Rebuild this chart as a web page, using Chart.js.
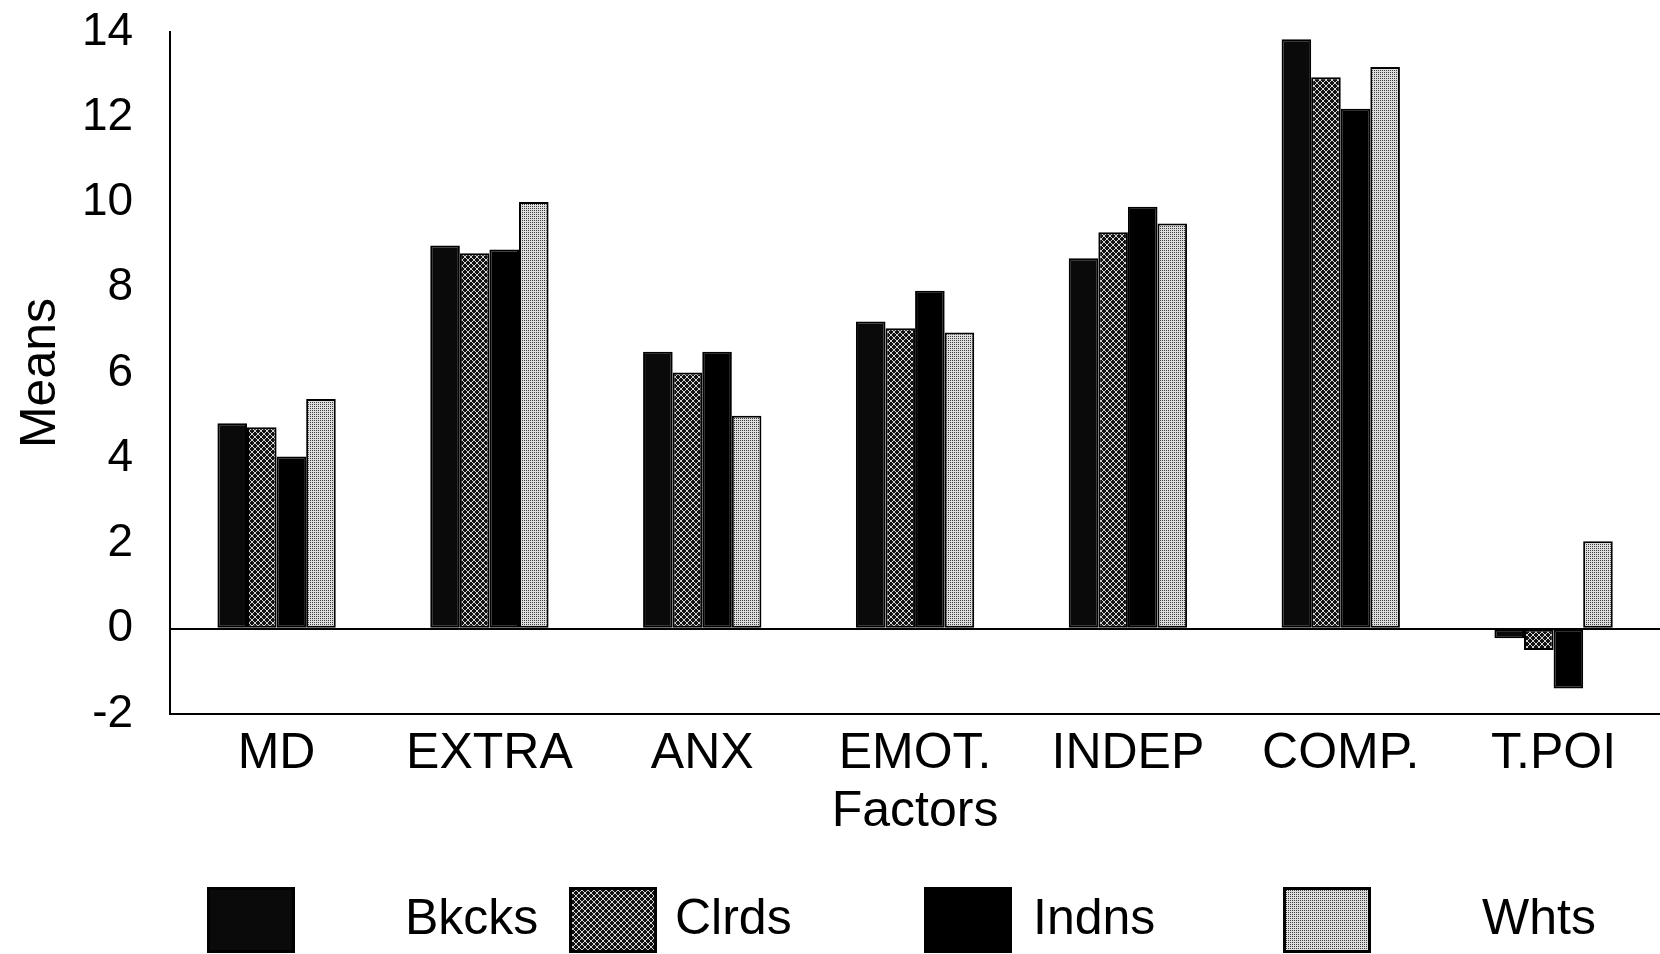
<!DOCTYPE html>
<html>
<head>
<meta charset="utf-8">
<script src="https://cdn.jsdelivr.net/npm/chart.js@4.4.1/dist/chart.umd.min.js"></script>
<style>
  html, body { margin: 0; padding: 0; background: #fff; }
  #wrap { width: 1660px; height: 954px; position: relative; }
</style>
</head>
<body>
<div id="wrap"><canvas id="c"></canvas></div>
<script>
// Factor means per group
const factors = ['MD', 'EXTRA', 'ANX', 'EMOT.', 'INDEP', 'COMP.', 'T.POI'];
const groupNames = ['Bkcks', 'Clrds', 'Indns', 'Whts'];
const bkcks = [4.82, 8.99, 6.50, 7.21, 8.69, 13.83, -0.22];
const clrds = [4.73, 8.81, 6.01, 7.05, 9.30, 12.94, -0.50];
const indns = [4.04, 8.90, 6.50, 7.93, 9.90, 12.20, -1.40];
const whts  = [5.39, 10.01, 5.00, 6.95, 9.51, 13.18, 2.05];
const yMin = -2, yMax = 14, yStep = 2;

const FONT = "'Liberation Sans', Arial, sans-serif";

// Small repeating tiles that give the halftone fills
function tilePattern(size, base, spot, isSpot) {
  const cv = document.createElement('canvas');
  cv.width = size; cv.height = size;
  const g = cv.getContext('2d');
  g.fillStyle = base;
  g.fillRect(0, 0, size, size);
  g.fillStyle = spot;
  for (let y = 0; y < size; y++) {
    for (let x = 0; x < size; x++) {
      if (isSpot(x, y)) g.fillRect(x, y, 1, 1);
    }
  }
  return g.createPattern(cv, 'repeat');
}
const ctx = document.getElementById('c').getContext('2d');
const fillBk = '#0a0a0a';
// dark crosshatch: black ground with light diagonal lattice
const fillCl = tilePattern(6, '#121212', '#d4d4d4', (x, y) => (x + y) % 6 === 1 || ((x - y) % 6 + 6) % 6 === 4);
const fillIn = '#000000';
// light stipple: pale ground with fine dark dots
const fillWh = tilePattern(2, '#dedede', '#3c3c3c', (x, y) => x === 0 && y === 0);
const fills = [fillBk, fillCl, fillIn, fillWh];
const seriesValues = [bkcks, clrds, indns, whts];

// Legend row drawn beneath the axis: box, then label
const legendRow = {
  id: 'legendRow',
  afterDraw(chart, args, opts) {
    const c = chart.ctx;
    c.save();
    c.font = opts.fontSize + 'px ' + FONT;
    c.textBaseline = 'middle';
    c.textAlign = 'left';
    chart.data.datasets.forEach((ds, i) => {
      const slot = opts.slots[i];
      c.fillStyle = ds.backgroundColor;
      c.fillRect(slot.box, opts.top, opts.boxW, opts.boxH);
      c.lineWidth = 3;
      c.strokeStyle = '#000';
      c.strokeRect(slot.box + 1.5, opts.top + 1.5, opts.boxW - 3, opts.boxH - 3);
      c.fillStyle = '#000';
      c.fillText(ds.label, slot.text, opts.top + opts.boxH / 2);
    });
    c.restore();
  }
};

new Chart(ctx, {
  type: 'bar',
  data: {
    labels: factors,
    datasets: groupNames.map((name, i) => ({
      label: name,
      data: seriesValues[i],
      backgroundColor: fills[i],
      borderColor: '#000',
      borderWidth: 2,
      borderSkipped: false,
      barPercentage: 1.0,
      categoryPercentage: 0.556
    }))
  },
  options: {
    responsive: true,
    maintainAspectRatio: false,
    animation: false,
    layout: { padding: { top: 0, right: 0, bottom: 112, left: 0 } },
    plugins: {
      legend: { display: false },
      tooltip: { enabled: false },
      legendRow: {
        fontSize: 50,
        top: 887,
        boxW: 88,
        boxH: 66,
        slots: [
          { box: 207, text: 405 },
          { box: 569, text: 675 },
          { box: 924, text: 1033 },
          { box: 1283, text: 1482 }
        ]
      }
    },
    scales: {
      x: {
        grid: { display: false, drawTicks: false },
        border: { display: true, color: '#000', width: 2 },
        afterFit: (scale) => { scale.height = 128; },
        ticks: {
          color: '#000',
          padding: 15,
          font: { family: FONT, size: 50, lineHeight: 1.0 },
          maxRotation: 0,
          autoSkip: false
        },
        title: {
          display: true,
          text: 'Factors',
          color: '#000',
          font: { family: FONT, size: 50 },
          padding: { top: 3, bottom: 0 }
        }
      },
      y: {
        min: yMin,
        max: yMax,
        afterFit: (scale) => { scale.paddingTop = 32; scale.paddingBottom = 0; },
        grid: {
          drawTicks: false,
          color: (c) => (c.tick && c.tick.value === 0 ? '#000' : 'rgba(0,0,0,0)'),
          lineWidth: 2
        },
        border: { display: true, color: '#000', width: 2 },
        ticks: {
          stepSize: yStep,
          color: '#000',
          padding: 37,
          font: { family: FONT, size: 46 }
        },
        title: {
          display: true,
          text: 'Means',
          color: '#000',
          font: { family: FONT, size: 50 },
          padding: { top: 11, bottom: -26 }
        }
      }
    }
  },
  plugins: [legendRow]
});
</script>
</body>
</html>
